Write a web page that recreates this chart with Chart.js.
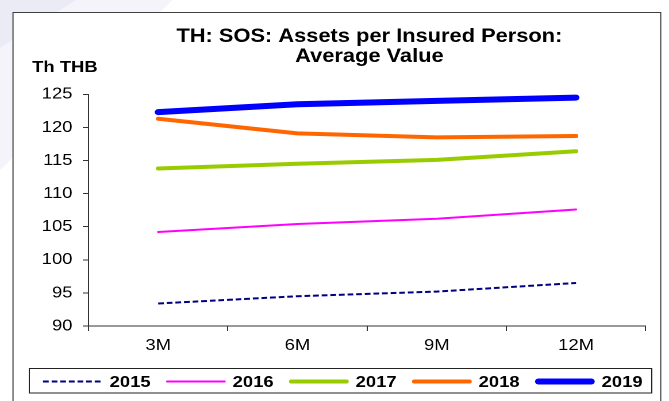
<!DOCTYPE html>
<html>
<head>
<meta charset="utf-8">
<script src="https://cdn.jsdelivr.net/npm/chart.js@4"></script>
<style>
  html, body { margin: 0; padding: 0; background: #ffffff; overflow: hidden; }
</style>
</head>
<body>
<canvas id="c" width="582" height="401" style="display:block;width:669px;height:401px;"></canvas>
<script>
// ---- data ----
const categories = ['3M', '6M', '9M', '12M'];
const seriesNames = ['2015', '2016', '2017', '2018', '2019'];
const values2015 = [93.4, 94.5, 95.2, 96.5];
const values2016 = [104.2, 105.4, 106.2, 107.6];
const values2017 = [113.8, 114.5, 115.1, 116.4];
const values2018 = [121.3, 119.1, 118.5, 118.7];
const values2019 = [122.3, 123.5, 124.0, 124.5];
const yMin = 90;
const yMax = 125;
const yStep = 5;
const titleLines = ['TH: SOS: Assets per Insured Person:', 'Average Value'];
const unitLabel = 'Th THB';

// ---- styling ----
const FONT = '"Liberation Sans", Arial, Helvetica, sans-serif';
const AXIS = '#333333';
const styles = [
  { color: '#000080', width: 2, dash: [5, 2.5], cap: 'butt' },
  { color: '#FF00FF', width: 2, dash: [], cap: 'round' },
  { color: '#99CC00', width: 4, dash: [], cap: 'round' },
  { color: '#FF6600', width: 4, dash: [], cap: 'round' },
  { color: '#0000FF', width: 6, dash: [], cap: 'round' }
];
const allValues = [values2015, values2016, values2017, values2018, values2019];

const datasets = seriesNames.map((name, i) => ({
  label: name,
  data: allValues[i],
  borderColor: styles[i].color,
  backgroundColor: styles[i].color,
  borderWidth: styles[i].width,
  borderDash: styles[i].dash,
  borderCapStyle: styles[i].cap,
  borderJoinStyle: 'round',
  pointRadius: 0,
  pointHoverRadius: 0,
  tension: 0,
  fill: false
}));

const decor = {
  id: 'decor',
  beforeDraw(chart) {
    const ctx = chart.ctx;
    const W = chart.width, H = chart.height;
    ctx.save();
    ctx.fillStyle = '#ffffff';
    ctx.fillRect(0, 0, W, H);
    // faint lavender shapes in the top-left corner
    ctx.fillStyle = '#F4F4FA';
    ctx.beginPath();
    ctx.moveTo(0, 0); ctx.lineTo(150, 0); ctx.lineTo(0, 170); ctx.closePath();
    ctx.fill();
    ctx.fillStyle = '#EAEBF5';
    ctx.beginPath();
    ctx.moveTo(0, 0); ctx.lineTo(66, 0); ctx.lineTo(0, 48); ctx.closePath();
    ctx.fill();
    // outer frame
    ctx.fillStyle = '#ffffff';
    ctx.fillRect(11.3, 12, 574.8 - 11.3, H);
    ctx.strokeStyle = '#404040';
    ctx.lineWidth = 1;
    ctx.strokeRect(11.3, 12.5, 574.8 - 11.3, H + 10);
    ctx.restore();
  },
  afterDraw(chart) {
    const ctx = chart.ctx;
    const area = chart.chartArea;
    ctx.save();
    // title
    ctx.fillStyle = '#000000';
    ctx.textAlign = 'center';
    ctx.textBaseline = 'alphabetic';
    ctx.font = 'bold 19px ' + FONT;
    const cx = (area.left + area.right) / 2 + 2;
    ctx.fillText(titleLines[0], cx, 42);
    ctx.fillText(titleLines[1], cx, 62);
    // unit label
    ctx.textAlign = 'left';
    ctx.font = 'bold 16px ' + FONT;
    ctx.fillText(unitLabel, 28, 72);
    // legend box
    ctx.strokeStyle = '#222222';
    ctx.lineWidth = 1;
    ctx.strokeRect(25.5, 368.5, 567 - 25.5, 393 - 368.5);
    const start = 37.4, stride = 107, len = 52, lineY = 381.5;
    chart.data.datasets.forEach((ds, i) => {
      const x0 = start + i * stride;
      const half = ds.borderCapStyle === 'round' ? ds.borderWidth / 2 : 0;
      ctx.beginPath();
      ctx.strokeStyle = ds.borderColor;
      ctx.lineWidth = ds.borderWidth;
      ctx.lineCap = ds.borderCapStyle;
      ctx.setLineDash(ds.borderDash || []);
      ctx.moveTo(x0 + half, lineY);
      ctx.lineTo(x0 + len - half, lineY);
      ctx.stroke();
      ctx.setLineDash([]);
      ctx.fillStyle = '#000000';
      ctx.font = 'bold 16px ' + FONT;
      ctx.textAlign = 'left';
      ctx.fillText(ds.label, x0 + len + 6, 387);
    });
    ctx.restore();
  }
};

new Chart(document.getElementById('c'), {
  type: 'line',
  data: { labels: categories, datasets: datasets },
  plugins: [decor],
  options: {
    responsive: false,
    devicePixelRatio: 2,
    animation: false,
    layout: { padding: { left: 0, right: 20.3, top: 94.3, bottom: 0 } },
    plugins: {
      legend: { display: false },
      title: { display: false },
      tooltip: { enabled: false }
    },
    scales: {
      x: {
        type: 'category',
        offset: true,
        afterFit(scale) { scale.height = 75; },
        grid: {
          offset: true,
          drawOnChartArea: false,
          drawTicks: true,
          tickLength: 5,
          color: AXIS,
          lineWidth: 1
        },
        border: { display: true, color: AXIS, width: 1 },
        ticks: {
          color: '#000000',
          font: { family: FONT, size: 16 },
          padding: 5,
          maxRotation: 0
        }
      },
      y: {
        min: yMin,
        max: yMax,
        afterFit(scale) { scale.width = 77; },
        grid: {
          drawOnChartArea: false,
          drawTicks: true,
          tickLength: 5,
          color: AXIS,
          lineWidth: 1
        },
        border: { display: true, color: AXIS, width: 1 },
        ticks: {
          stepSize: yStep,
          color: '#000000',
          font: { family: FONT, size: 16 },
          padding: 9
        }
      }
    }
  }
});
</script>
</body>
</html>
